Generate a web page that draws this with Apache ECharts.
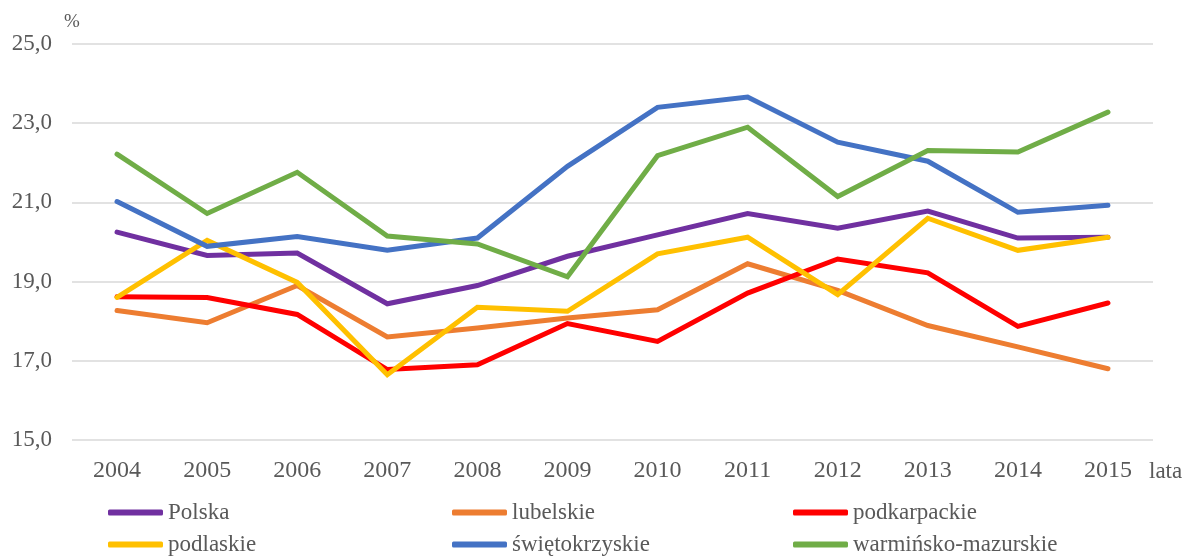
<!DOCTYPE html>
<html>
<head>
<meta charset="utf-8">
<script src="https://cdn.jsdelivr.net/npm/echarts@6/dist/echarts.min.js"></script>
<style>
  html, body { margin: 0; padding: 0; background: #fff; }
  #chart { width: 1184px; height: 557px; }
</style>
</head>
<body>
<div id="chart"></div>
<script>
// lata
var years = ['2004','2005','2006','2007','2008','2009','2010','2011','2012','2013','2014','2015'];

// wartości w %
var polska      = [20.25, 19.66, 19.72, 18.44, 18.90, 19.64, 20.18, 20.72, 20.35, 20.78, 20.10, 20.12];
var lubelskie   = [18.27, 17.96, 18.90, 17.60, 17.83, 18.08, 18.29, 19.45, 18.78, 17.89, 17.35, 16.80];
var podkarpackie= [18.62, 18.60, 18.17, 16.78, 16.90, 17.94, 17.49, 18.71, 19.57, 19.22, 17.87, 18.46];
var podlaskie   = [18.60, 20.04, 18.98, 16.65, 18.35, 18.25, 19.70, 20.12, 18.67, 20.60, 19.79, 20.12];
var swietokrz   = [21.02, 19.89, 20.14, 19.79, 20.10, 21.91, 23.40, 23.66, 22.52, 22.04, 20.75, 20.93];
var warminsko   = [22.22, 20.72, 21.76, 20.15, 19.95, 19.12, 22.18, 22.90, 21.15, 22.31, 22.27, 23.28];

var names  = ['Polska','lubelskie','podkarpackie','podlaskie','świętokrzyskie','warmińsko-mazurskie'];
var colors = ['#7030A0','#ED7D31','#FF0000','#FFC000','#4472C4','#70AD47'];
var values = [polska, lubelskie, podkarpackie, podlaskie, swietokrz, warminsko];

var font = 'Liberation Serif, Times New Roman, serif';
var txt = '#595959';

// legenda: 3 kolumny x 2 wiersze
var legLeft = [108, 452, 793];
var legTop = [501, 533];
function leg(i) {
  return {
    left: legLeft[i % 3], top: legTop[Math.floor(i / 3)],
    padding: 0,
    itemWidth: 55, itemHeight: 6,
    itemGap: 0,
    icon: 'roundRect',
    data: [names[i]],
    textStyle: { color: txt, fontFamily: font, fontSize: 23, padding: [0, 0, 0, 0] }
  };
}

var chart = echarts.init(document.getElementById('chart'));
chart.setOption({
  animation: false,
  color: colors,
  grid: { left: 72, right: 31, top: 44, bottom: 117, outerBoundsMode: 'none' },
  legend: names.map(function (n, i) { return leg(i); }),
  xAxis: {
    type: 'category',
    data: years,
    boundaryGap: true,
    name: 'lata',
    nameLocation: 'end',
    nameGap: -4,
    nameTextStyle: { color: txt, fontFamily: font, fontSize: 23, verticalAlign: 'top', padding: [20, 0, 0, 0] },
    axisLine: { show: false },
    axisTick: { show: false },
    axisLabel: { color: txt, fontFamily: font, fontSize: 24, margin: 19 }
  },
  yAxis: {
    type: 'value',
    min: 15, max: 25, interval: 2,
    name: '%',
    nameLocation: 'end',
    nameGap: 12,
    nameTextStyle: { color: txt, fontFamily: font, fontSize: 19, align: 'left', padding: [0, 0, 0, -8] },
    axisLine: { show: false },
    axisTick: { show: false },
    splitLine: { lineStyle: { color: '#D9D9D9', width: 1.5 } },
    axisLabel: {
      color: txt, fontFamily: font, fontSize: 23, margin: 20,
      formatter: function (v) { return v.toFixed(1).replace('.', ','); }
    }
  },
  series: names.map(function (n, i) {
    return {
      name: n,
      type: 'line',
      data: values[i],
      symbol: 'none',
      lineStyle: { width: 5, color: colors[i], cap: 'round', join: 'miter' },
      itemStyle: { color: colors[i] }
    };
  })
});
</script>
</body>
</html>
